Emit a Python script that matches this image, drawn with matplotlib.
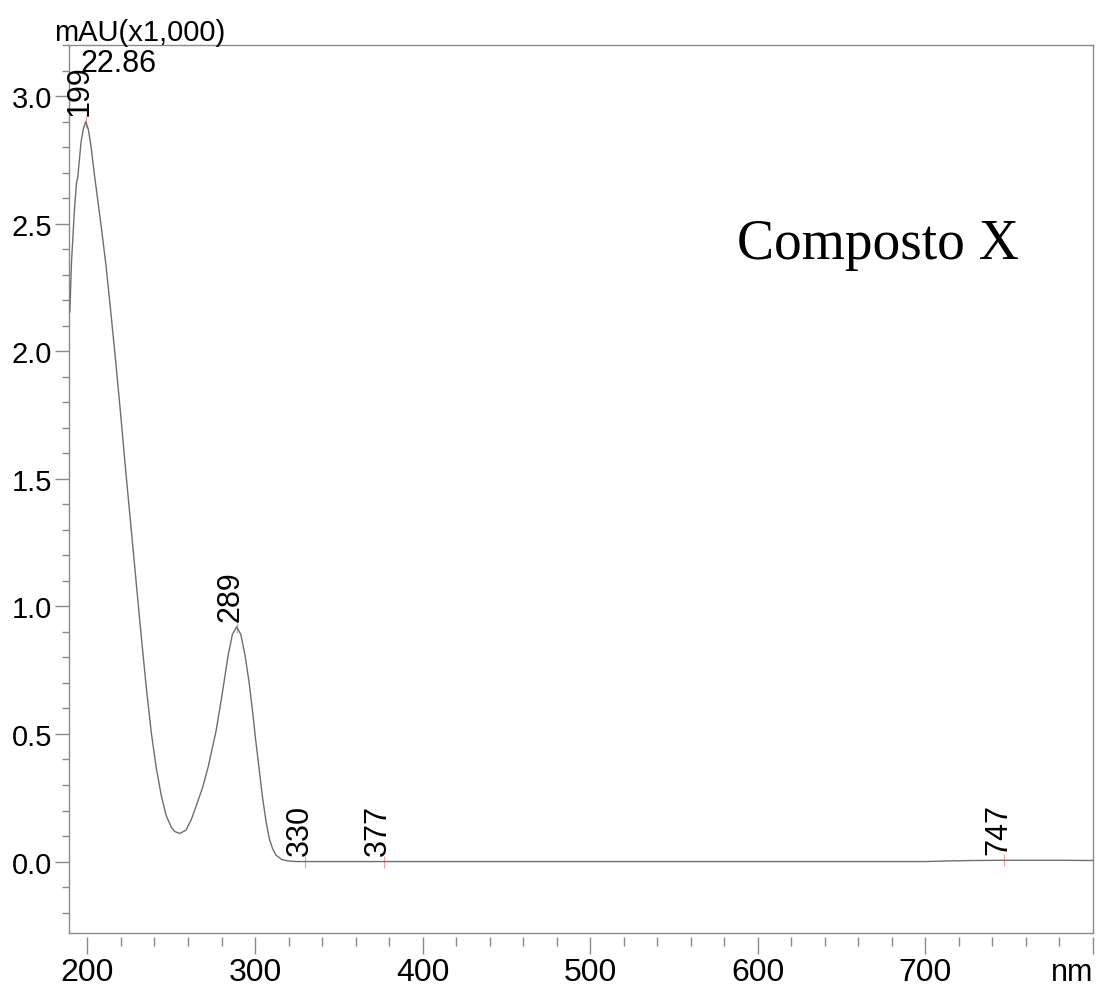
import matplotlib
matplotlib.use("Agg")
import matplotlib.pyplot as plt
from matplotlib.lines import Line2D
from matplotlib.ticker import MultipleLocator, FixedLocator, FormatStrFormatter

# Absorbance spectrum (mAU x 1,000) versus wavelength (nm)
wavelength = [189.5, 190.5, 192.3, 193.5, 194.2, 196.2, 197.5, 199.0, 200.5, 202.0,
              204.2, 206.0, 208.2, 211.0, 214.0, 217.0, 220.0, 223.0, 226.0, 229.0,
              232.0, 235.0, 238.0, 241.0, 244.0, 247.0, 250.0, 252.0, 255.0, 258.8,
              262.0, 265.0, 268.7, 272.0, 276.7, 280.0, 284.0, 286.5, 289.0, 291.5,
              294.0, 296.5, 298.5, 300.5, 302.5, 304.5, 306.5, 308.5, 310.5, 312.5,
              316.0, 320.0, 325.0, 330.0, 377.0, 500.0, 600.0, 700.0, 711.0, 727.0,
              747.0, 781.0, 800.0]
absorbance = [2.154, 2.35, 2.56, 2.66, 2.68, 2.82, 2.87, 2.90, 2.87, 2.81,
              2.69, 2.60, 2.49, 2.34, 2.15, 1.95, 1.74, 1.52, 1.31, 1.10,
              0.89, 0.69, 0.51, 0.37, 0.26, 0.18, 0.135, 0.118, 0.110, 0.123,
              0.165, 0.22, 0.29, 0.37, 0.51, 0.64, 0.81, 0.89, 0.92, 0.89,
              0.81, 0.70, 0.59, 0.47, 0.36, 0.25, 0.16, 0.09, 0.05, 0.025,
              0.008, 0.002, 0.0, 0.0, 0.0, 0.0, 0.0, 0.0, 0.002, 0.004,
              0.005, 0.005, 0.004]

# Detected peaks
peak_nm = [199, 289, 330, 377, 747]
peak_abs = [2.90, 0.92, 0.0, 0.0, 0.005]
peak_labels = ["199", "289", "330", "377", "747"]

x_major = [200, 300, 400, 500, 600, 700, 800]
x_labels = ["200", "300", "400", "500", "600", "700", ""]

W, H = 1097, 987
fig = plt.figure(figsize=(W / 100, H / 100), dpi=100)
plt.rcParams["font.family"] = ["Liberation Sans", "DejaVu Sans"]

ax = fig.add_axes([69 / W, 1 - 934 / H, (1093 - 69) / W, (934 - 46) / H])
frame_col = "#8a8a8a"

ax.plot(wavelength, absorbance, color="#6e6e6e", lw=1.0, zorder=3,
        solid_joinstyle="round")

# peak markers and labels
ax.plot(peak_nm, peak_abs, linestyle="none", marker="|", markersize=9,
        color="#ff9a9a", markeredgewidth=0.9, zorder=2)
for xv, yv, lab in zip(peak_nm, peak_abs, peak_labels):
    ax.annotate(lab, (xv, yv), xytext=(1.5, 4.5), textcoords="offset points",
                rotation=90, rotation_mode="anchor", ha="left", va="baseline",
                fontsize=22, color="black")

ax.set_xlim(189, 800)
ax.set_ylim(-0.28, 3.2)

ax.xaxis.set_major_locator(FixedLocator(x_major))
ax.set_xticklabels(x_labels)
ax.xaxis.set_minor_locator(MultipleLocator(20))
ax.yaxis.set_major_locator(MultipleLocator(0.5))
ax.yaxis.set_minor_locator(MultipleLocator(0.1))
ax.yaxis.set_major_formatter(FormatStrFormatter("%.1f"))

ax.tick_params(axis="x", which="major", direction="out", length=12, width=1,
               color=frame_col, labelsize=23, pad=2)
ax.tick_params(axis="x", which="minor", direction="out", length=6.5, width=1,
               color=frame_col)
ax.tick_params(axis="y", which="major", direction="out", length=10, width=1,
               color=frame_col, labelsize=21, pad=2)
ax.tick_params(axis="y", which="minor", direction="out", length=5, width=1,
               color=frame_col)

for s in ax.spines.values():
    s.set_color(frame_col)
    s.set_linewidth(1.0)

# x ticks sit slightly below the frame
ax.spines["bottom"].set_position(("outward", 3))
ax.spines["bottom"].set_visible(False)
ax.add_line(Line2D([0, 1], [0, 0], transform=ax.transAxes, color=frame_col,
                   lw=1.0, clip_on=False, zorder=5))

fig.text(54 / W, 1 - 41 / H, "mAU(x1,000)", fontsize=21, ha="left", va="baseline")
fig.text(80 / W, 1 - 72 / H, "22.86", fontsize=22, ha="left", va="baseline")
fig.text(1093 / W, 1 - 958 / H, "nm", fontsize=22, ha="right", va="top")
ax.text(0.652, 0.76, "Composto X", transform=ax.transAxes,
        family=["Liberation Serif", "DejaVu Serif"], fontsize=40,
        ha="left", va="baseline")

fig.savefig("out.png", dpi=100)
